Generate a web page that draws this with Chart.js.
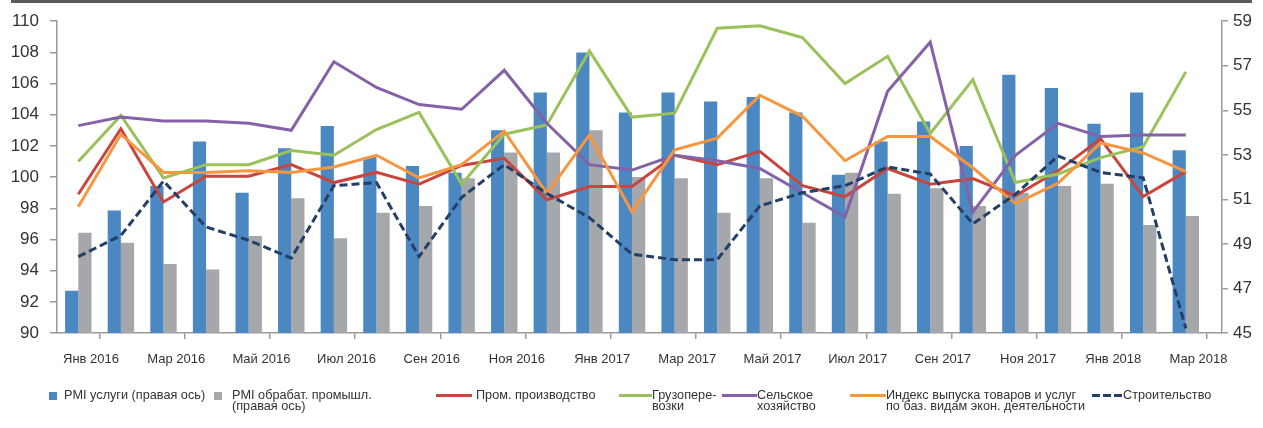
<!DOCTYPE html>
<html lang="ru">
<head>
    <meta charset="UTF-8">
    <title>Индексы деловой активности</title>
    <script src="https://cdn.jsdelivr.net/npm/chart.js"></script>
    <style>
        body { margin: 0; background: #fff; font-family: "Liberation Sans", Arial, sans-serif; }
        .wrap { position: relative; width: 1263px; height: 428px; overflow: hidden; }
        .wrap canvas { position: absolute; left: 0; top: 0; }
        .topline { position: absolute; left: 11px; top: 0; width: 1241px; height: 3px; background: #5a5a5a; }
        .item { position: absolute; top: 390px; display: flex; align-items: flex-start; font-size: 12.7px; line-height: 11px; color: #333; white-space: nowrap; }
        .sq { width: 8px; height: 8px; margin-top: 2px; margin-right: 7px; }
        .ln { height: 3px; margin-top: 4px; }
        .dash { height: 3px; margin-top: 4px; background: repeating-linear-gradient(90deg, #243f66 0 8px, transparent 8px 11px); }
    </style>
</head>
<body>
    <div class="wrap">
        <canvas id="chart" width="1263" height="428"></canvas>
        <div class="topline"></div>

        <div class="item" style="left:49px"><div class="sq" style="background:#4b88c2"></div><div>PMI услуги (правая ось)</div></div>
        <div class="item" style="left:214px"><div class="sq" style="background:#a6a7aa;margin-right:10px"></div><div>PMI обрабат. промышл.<br>(правая ось)</div></div>
        <div class="item" style="left:436px"><div class="ln" style="width:36px;background:#c8463e;margin-right:4px"></div><div>Пром. производство</div></div>
        <div class="item" style="left:619px"><div class="ln" style="width:33px;background:#9bc15a"></div><div>Грузопере-<br>возки</div></div>
        <div class="item" style="left:722px"><div class="ln" style="width:35px;background:#8562a8"></div><div>Сельское<br>хозяйство</div></div>
        <div class="item" style="left:850px"><div class="ln" style="width:36px;background:#f7963f"></div><div>Индекс выпуска товаров и услуг<br>по баз. видам экон. деятельности</div></div>
        <div class="item" style="left:1092px"><div class="dash" style="width:31px"></div><div>Строительство</div></div>
    </div>

    <script>
        const months = [
            'Янв 2016', 'Фев 2016', 'Мар 2016', 'Апр 2016', 'Май 2016', 'Июн 2016',
            'Июл 2016', 'Авг 2016', 'Сен 2016', 'Окт 2016', 'Ноя 2016', 'Дек 2016',
            'Янв 2017', 'Фев 2017', 'Мар 2017', 'Апр 2017', 'Май 2017', 'Июн 2017',
            'Июл 2017', 'Авг 2017', 'Сен 2017', 'Окт 2017', 'Ноя 2017', 'Дек 2017',
            'Янв 2018', 'Фев 2018', 'Мар 2018'
        ];
        const tickLabels = [
            'Янв 2016', 'Мар 2016', 'Май 2016', 'Июл 2016', 'Сен 2016', 'Ноя 2016', 'Янв 2017',
            'Мар 2017', 'Май 2017', 'Июл 2017', 'Сен 2017', 'Ноя 2017', 'Янв 2018', 'Мар 2018'
        ];

        // right axis (PMI)
        const pmiServices = [46.9, 50.5, 51.6, 53.6, 51.3, 53.3, 54.3, 52.9, 52.5, 52.2, 54.1, 55.8, 57.6, 54.9,
                             55.8, 55.4, 55.6, 54.9, 52.1, 53.6, 54.5, 53.4, 56.6, 56.0, 54.4, 55.8, 53.2];
        const pmiManuf = [49.5, 49.05, 48.1, 47.85, 49.35, 51.05, 49.25, 50.4, 50.7, 51.95, 53.1, 53.1, 54.1, 52.0,
                          51.95, 50.4, 51.95, 49.95, 52.2, 51.25, 51.5, 50.7, 51.3, 51.6, 51.7, 49.85, 50.25];

        // left axis
        const industry = [98.9, 103.1, 98.4, 100.05, 100.05, 100.8, 99.65, 100.3, 99.55, 100.75, 101.2, 98.55, 99.4, 99.4,
                          101.4, 100.8, 101.65, 99.45, 98.75, 100.55, 99.55, 99.9, 98.8, 100.4, 102.45, 98.75, 100.35];
        const freight = [101.0, 103.95, 99.95, 100.8, 100.8, 101.7, 101.4, 103.05, 104.15, 99.55, 102.75, 103.35, 108.1, 103.85,
                         104.1, 109.55, 109.7, 108.95, 106.0, 107.75, 102.8, 106.25, 99.65, 100.2, 101.25, 101.95, 106.75];
        const agriculture = [103.3, 103.85, 103.6, 103.6, 103.45, 103.0, 107.4, 105.75, 104.65, 104.35, 106.85, 103.45, 100.8, 100.45,
                             101.4, 101.05, 100.55, 99.0, 97.45, 105.5, 108.65, 97.75, 101.4, 103.45, 102.6, 102.7, 102.7];
        const outputIndex = [98.1, 102.75, 100.3, 100.3, 100.4, 100.3, 100.65, 101.4, 99.95, 100.8, 102.95, 98.95, 102.7, 97.75,
                             101.75, 102.5, 105.25, 103.9, 101.05, 102.6, 102.6, 100.6, 98.3, 99.6, 102.2, 101.55, 100.35];
        const construction = [94.9, 96.25, 99.75, 96.8, 95.95, 94.8, 99.45, 99.65, 94.9, 98.7, 100.8, 98.95, 97.4, 95.05,
                              94.7, 94.7, 98.15, 99.0, 99.45, 100.65, 100.2, 97.0, 98.9, 101.35, 100.3, 99.95, 90.3];

        const xy = arr => arr.map((v, i) => ({ x: i, y: v }));

        function lineSet(label, data, color, order) {
            return {
                type: 'line', label: label, data: xy(data), yAxisID: 'y',
                borderColor: color, borderWidth: 3, pointRadius: 0, tension: 0, order: order
            };
        }

        const dashed = lineSet('Строительство', construction, '#243f66', 1);
        dashed.borderDash = [8, 4];

        const axisColor = '#9a9a9a';

        new Chart(document.getElementById('chart'), {
            type: 'bar',
            data: {
                datasets: [
                    dashed,
                    lineSet('Индекс выпуска товаров и услуг по баз. видам экон. деятельности', outputIndex, '#f7963f', 2),
                    lineSet('Сельское хозяйство', agriculture, '#8562a8', 3),
                    lineSet('Грузоперевозки', freight, '#9bc15a', 4),
                    lineSet('Пром. производство', industry, '#c8463e', 5),
                    { type: 'bar', label: 'PMI услуги (правая ось)', data: xy(pmiServices), yAxisID: 'y2',
                      backgroundColor: '#4b88c2', categoryPercentage: 0.62, barPercentage: 1, order: 10 },
                    { type: 'bar', label: 'PMI обрабат. промышл. (правая ось)', data: xy(pmiManuf), yAxisID: 'y2',
                      backgroundColor: '#a6a7aa', categoryPercentage: 0.62, barPercentage: 1, order: 10 }
                ]
            },
            options: {
                responsive: false,
                animation: false,
                layout: { padding: { top: 19, bottom: 55, left: 0, right: 0 } },
                plugins: { legend: { display: false }, tooltip: { enabled: false } },
                scales: {
                    x: {
                        type: 'linear', min: -0.5, max: 26.85, offset: false, bounds: 'data',
                        afterBuildTicks: s => { s.ticks = tickLabels.map((t, k) => ({ value: -0.5 + 2 * k })); },
                        afterFit: s => { s.height = 40; },
                        grid: { drawOnChartArea: false, tickLength: 6, color: axisColor, lineWidth: 1.5 },
                        border: { color: axisColor, width: 1.5 },
                        ticks: {
                            callback: (v, i) => tickLabels[i],
                            autoSkip: false, maxRotation: 0, labelOffset: 34, padding: 13,
                            font: { family: 'Liberation Sans', size: 13 }, color: '#333'
                        }
                    },
                    y: {
                        position: 'left', min: 90, max: 110,
                        afterFit: s => { s.width = 57; },
                        grid: { drawOnChartArea: false, tickLength: 7, color: axisColor, lineWidth: 1.5 },
                        border: { color: axisColor, width: 1.5 },
                        ticks: { stepSize: 2, padding: 11, font: { family: 'Liberation Sans', size: 17 }, color: '#333' }
                    },
                    y2: {
                        position: 'right', min: 45, max: 59,
                        afterFit: s => { s.width = 41; },
                        grid: { drawOnChartArea: false, tickLength: 6, color: axisColor, lineWidth: 1.5 },
                        border: { color: axisColor, width: 1.5 },
                        ticks: { stepSize: 2, padding: 5, font: { family: 'Liberation Sans', size: 17 }, color: '#333' }
                    }
                }
            }
        });
    </script>
</body>
</html>
